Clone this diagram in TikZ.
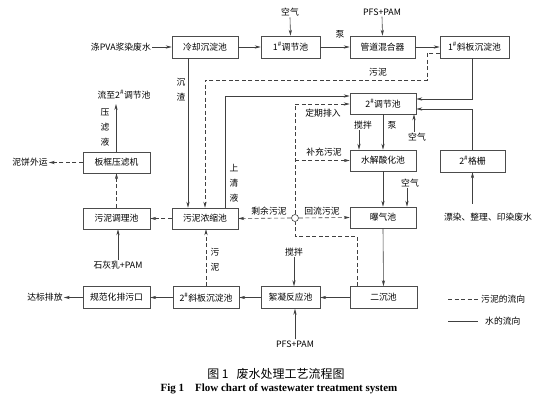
\documentclass[tikz,border=0pt]{standalone}
\usepackage{fontspec}
\setmainfont{Liberation Serif}
\newfontfamily\cjk{Noto Sans CJK SC}
\usetikzlibrary{arrows.meta}
\newcommand{\hs}{\textsuperscript{\#}}
\begin{document}
\begin{tikzpicture}[x=1pt,y=-1pt,
  box/.style={draw=black!70, line width=0.5pt, minimum width=66pt, minimum height=22pt, inner sep=0pt, font=\cjk\fontsize{8.8}{10}\selectfont},
  lbl/.style={font=\cjk\fontsize{8.8}{10}\selectfont, inner sep=1pt},
  vlbl/.style={font=\cjk\fontsize{8.8}{15}\selectfont, align=center, inner sep=0pt},
  flow/.style={draw=black!75, line width=0.6pt, -{Stealth[length=6pt,width=3.2pt]}},
  sflow/.style={flow, dash pattern=on 4pt off 2.5pt},
  sline/.style={draw=black!75, line width=0.6pt, dash pattern=on 4pt off 2.5pt},
  wline/.style={draw=black!75, line width=0.6pt}
]
\useasboundingbox (0,0) rectangle (542,404);

% boxes
\node[box] (lq) at (205,47) {冷却沉淀池};
\node[box, minimum width=59pt] (t1) at (290.5,47) {1\hs 调节池};
\node[box, minimum width=65pt] (gd) at (382.5,47) {管道混合器};
\node[box, minimum width=69pt] (xb1) at (474.5,47) {1\hs 斜板沉淀池};
\node[box, minimum height=21pt] (t2) at (383,103.5) {2\hs 调节池};
\node[box, minimum height=21pt] (sj) at (383,160.5) {水解酸化池};
\node[box, minimum height=21pt] (bq) at (383,217.5) {曝气池};
\node[box, minimum width=67pt] (ec) at (383.5,297.5) {二沉池};
\node[box, minimum width=59pt] (xn) at (290.5,297.5) {絮凝反应池};
\node[box] (xb2) at (206,297.5) {2\hs 斜板沉淀池};
\node[box, minimum width=67pt] (gf) at (116.5,297.5) {规范化排污口};
\node[box, minimum height=21pt] (ns) at (205,218.5) {污泥浓缩池};
\node[box, minimum width=67pt, minimum height=21pt] (nt) at (116.5,218.5) {污泥调理池};
\node[box, minimum width=67pt, minimum height=21pt] (bk) at (116.5,162.5) {板框压滤机};
\node[box, minimum width=65pt] (gs) at (472.5,161) {2\hs 格栅};

% junction
\node[circle, draw=black!75, line width=0.6pt, minimum size=7pt, inner sep=0pt] (jn) at (295,218) {};

% text labels
\node[lbl, anchor=east] (in) at (152,47) {涤PVA浆染废水};
\node[lbl] (kq1) at (290,12) {空气};
\node[lbl] (pf1) at (382,12) {PFS+PAM};
\node[lbl] (b1) at (340,34) {泵};
\node[lbl] (wn1) at (378,72) {污泥};
\node[vlbl] (cz) at (181,90) {沉\\渣};
\node[vlbl] (sq) at (234,183) {上\\清\\液};
\node[vlbl] (ylq) at (105,127) {压\\滤\\液};
\node[vlbl] (wn2) at (215,260) {污\\泥};
\node[lbl] (lz) at (124,95) {流至2\hs 调节池};
\node[lbl] (nb) at (30,162.5) {泥饼外运};
\node[lbl] (shy) at (118,265) {石灰乳+PAM};
\node[lbl] (db) at (45,297.5) {达标排放};
\node[lbl] (dq) at (323,113) {定期排入};
\node[lbl] (jb1) at (363,125) {搅拌};
\node[lbl] (b2) at (392,125) {泵};
\node[lbl] (kq2) at (417,137) {空气};
\node[lbl] (bc) at (324,152) {补充污泥};
\node[lbl] (kq3) at (410,183) {空气};
\node[lbl] (hl) at (322,211) {回流污泥};
\node[lbl] (sy) at (269,211) {剩余污泥};
\node[lbl] (pr) at (488,217) {漂染、整理、印染废水};
\node[lbl] (jb2) at (294,252) {搅拌};
\node[lbl] (pf2) at (295,344) {PFS+PAM};

% main water flow
\draw[flow] (in.east) -- (lq.west);
\draw[flow] (lq.east) -- (t1.west);
\draw[flow] (t1.east) -- (gd.west);
\draw[flow] (gd.east) -- (xb1.west);
\draw[flow] (kq1.south) -- (t1.north);
\draw[flow] (pf1.south) -- (gd.north);
\draw[flow] ([xshift=-2.5pt]xb1.south) |- ([yshift=4.5pt]t2.east);
\draw[flow] (gs.north) |- ([yshift=-5.5pt]t2.east);
\coordinate (prs) at (472.5,204);
\draw[flow] (prs) -- (gs.south);
\draw[flow] ([xshift=-17pt]lq.south) -- ([xshift=-17pt]ns.north);
\draw[flow] ([xshift=20pt]ns.north) |- ([yshift=7.5pt]t2.west);
\draw[flow] (t2.south) -- (sj.north);
\draw[flow] ([xshift=-4pt]jb1.south) -- ([xshift=-4pt]jb1.south |- sj.north);
\draw[flow] ([xshift=-3pt]kq2.north) -- ([xshift=-3pt]kq2.north |- t2.south);
\draw[flow] (sj.south) -- (bq.north);
\draw[flow] ([xshift=-3pt]kq3.south) -- ([xshift=-3pt]kq3.south |- bq.north);
\draw[flow] (bq.south) -- (ec.north);
\draw[flow] (ec.west) -- (xn.east);
\draw[flow] (xn.west) -- (xb2.east);
\draw[flow] (xb2.west) -- (gf.east);
\draw[flow] (gf.west) -- (db.east);
\draw[flow] (jb2.south) -- (jb2.south |- xn.north);
\draw[flow] (pf2.north) -- (pf2.north |- xn.south);
\draw[flow] (shy.north) -- (shy.north |- nt.south);
\coordinate (lzp) at (116,104);
\draw[flow] (bk.north -| lzp) -- (lzp);

% sludge flow
\draw[sflow] ([yshift=-6pt]xb1.west) -| (427,80) -- (205,80) -- (ns.north);
\draw[sline] ([xshift=-26.5pt]ec.north) -- ++(0,-50) -| (jn.south);
\draw[sflow] (jn.north) |- ([yshift=-0.5pt]t2.west);
\draw[sflow] (jn.north |- sj.west) -- (sj.west);
\draw[sflow] (jn.east) -- (bq.west);
\draw[sflow] (jn.west) -- (ns.east);
\draw[sflow] (xb2.north) -- (xb2.north |- ns.south);
\draw[sflow] (ns.west) -- (nt.east);
\draw[sflow] (nt.north) -- (bk.south);
\draw[sflow] (bk.west) -- (nb.east);

% legend
\coordinate (la1) at (448,299);
\coordinate (la2) at (478,299);
\coordinate (lb1) at (448,321);
\coordinate (lb2) at (478,321);
\draw[sline] (la1) -- (la2);
\draw[wline] (lb1) -- (lb2);
\node[lbl, anchor=west] (lg1) at (480,299) {污泥的流向};
\node[lbl, anchor=west] (lg2) at (484,321) {水的流向};

% captions
\node[font=\cjk\fontsize{12}{14}\selectfont] (cap1) at (276,374) {图\ 1\ \ \ 废水处理工艺流程图};
\node[font=\bfseries\fontsize{11}{13}\selectfont] (cap2) at (279,389) {Fig 1\ \ \ \ Flow chart of wastewater treatment system};
\end{tikzpicture}
\end{document}
